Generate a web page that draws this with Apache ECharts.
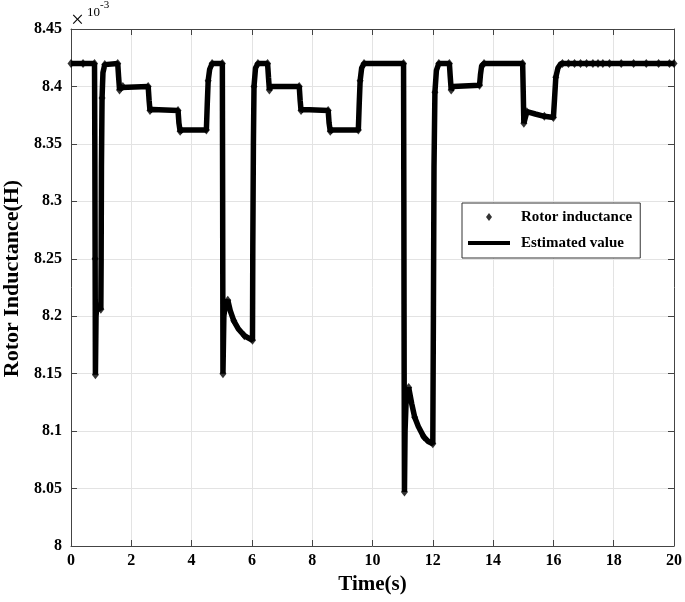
<!DOCTYPE html>
<html>
<head>
<meta charset="utf-8">
<script src="https://cdn.jsdelivr.net/npm/echarts@6/dist/echarts.min.js"></script>
<style>html,body{margin:0;padding:0;background:#fff;}#chart{width:685px;height:602px;}</style>
</head>
<body>
<div id="chart"></div>
<script>
// Estimated value (line), time in s, inductance in 1e-3 H
const estT = [0.00,0.78,0.79,0.80,0.81,0.83,0.86,0.92,0.99,1.00,1.01,1.03,1.06,1.12,1.55,1.58,1.61,1.66,1.72,
  2.56,2.59,2.62,2.70,3.55,3.58,3.62,3.70,4.49,4.52,4.55,4.60,4.68,5.02,5.03,5.04,5.07,5.12,5.20,5.28,5.40,5.55,5.75,5.95,6.02,
  6.03,6.05,6.07,6.12,6.20,6.52,6.55,6.58,6.63,7.57,7.60,7.63,7.70,8.53,8.56,8.60,8.68,9.53,9.56,9.59,9.64,9.72,
  11.03,11.04,11.05,11.06,11.08,11.12,11.20,11.30,11.40,11.52,11.70,11.85,12.00,12.02,12.04,12.07,12.12,12.20,
  12.55,12.58,12.61,12.67,13.55,13.58,13.62,13.70,14.98,15.00,15.02,15.06,15.12,15.40,15.70,16.00,16.04,16.08,16.15,16.25,20.00];
const estV = [8.420,8.420,8.350,8.250,8.149,8.200,8.210,8.207,8.206,8.250,8.330,8.390,8.412,8.419,8.420,8.408,8.397,8.399,8.400,
  8.400,8.388,8.379,8.380,8.379,8.368,8.361,8.362,8.362,8.385,8.405,8.415,8.420,8.420,8.300,8.150,8.200,8.210,8.214,8.205,8.196,8.189,8.183,8.180,8.179,
  8.260,8.350,8.400,8.416,8.420,8.420,8.408,8.397,8.400,8.400,8.388,8.379,8.380,8.379,8.368,8.361,8.362,8.362,8.385,8.405,8.416,8.420,
  8.420,8.300,8.150,8.047,8.100,8.130,8.138,8.124,8.112,8.104,8.095,8.091,8.089,8.200,8.330,8.395,8.414,8.420,
  8.420,8.408,8.397,8.400,8.401,8.410,8.418,8.420,8.420,8.395,8.368,8.372,8.378,8.376,8.374,8.373,8.390,8.408,8.416,8.420,8.420];
// Rotor inductance samples (markers)
const sampT = [0.00,0.40,0.78,0.80,0.81,0.86,0.99,1.03,1.12,1.55,1.61,1.72,2.56,2.62,3.55,3.62,4.49,4.55,4.68,5.02,5.04,5.12,5.20,5.40,5.75,6.02,
  6.07,6.20,6.52,6.58,7.57,7.63,8.53,8.60,9.53,9.59,9.72,11.03,11.06,11.20,11.40,11.70,12.00,12.07,12.20,12.55,12.61,13.55,13.70,14.98,15.02,15.12,15.70,16.00,
  16.08,16.30,16.50,16.70,16.90,17.10,17.31,17.48,17.64,17.86,18.25,18.66,19.08,19.49,19.85,20.00];
const sampV = [8.420,8.420,8.420,8.250,8.149,8.210,8.206,8.390,8.419,8.420,8.397,8.400,8.400,8.379,8.379,8.361,8.362,8.405,8.420,8.420,8.150,8.210,8.214,8.196,8.183,8.179,
  8.400,8.420,8.420,8.397,8.400,8.379,8.379,8.361,8.362,8.405,8.420,8.420,8.047,8.138,8.112,8.095,8.089,8.395,8.420,8.420,8.397,8.401,8.420,8.420,8.368,8.378,8.374,8.373,
  8.408,8.420,8.420,8.420,8.420,8.420,8.420,8.420,8.420,8.420,8.420,8.420,8.420,8.420,8.420,8.420];
const xTicks = {min: 0, max: 20, interval: 2};
const yTicks = {min: 8, max: 8.45, interval: 0.05};

const serif = 'Liberation Serif';
const chart = echarts.init(document.getElementById('chart'), null, {renderer: 'canvas'});
const axisCol = '#444';
const boxAxis = (extra) => Object.assign({
  axisLine: {show: true, onZero: false, lineStyle: {color: axisCol, width: 1}},
  axisTick: {show: true, inside: true, length: 6, lineStyle: {color: axisCol}},
  axisLabel: {show: false},
  splitLine: {show: false}
}, extra);
chart.setOption({
  animation: false,
  backgroundColor: '#fff',
  grid: {left: 71, right: 11, top: 29, bottom: 56, containLabel: false, outerBoundsMode: 'none'},
  xAxis: [
    boxAxis({type: 'value', min: xTicks.min, max: xTicks.max, interval: xTicks.interval, position: 'bottom',
      name: 'Time(s)', nameLocation: 'middle', nameGap: 16,
      nameTextStyle: {fontFamily: serif, fontWeight: 'bold', fontSize: 21, color: '#000'},
      axisLabel: {show: true, margin: 7, fontFamily: serif, fontWeight: 'bold', fontSize: 16, color: '#000'},
      splitLine: {show: true, lineStyle: {color: '#e3e3e3', width: 1}}}),
    boxAxis({type: 'value', min: xTicks.min, max: xTicks.max, interval: xTicks.interval, position: 'top'})
  ],
  yAxis: [
    boxAxis({type: 'value', min: yTicks.min, max: yTicks.max, interval: yTicks.interval, position: 'left',
      name: 'Rotor Inductance(H)', nameLocation: 'middle', nameGap: 48,
      nameTextStyle: {fontFamily: serif, fontWeight: 'bold', fontSize: 22, color: '#000', padding: [0, 0, 0, 18]},
      axisLabel: {show: true, margin: 9, fontFamily: serif, fontWeight: 'bold', fontSize: 16, color: '#000',
        formatter: v => String(+v.toFixed(2))},
      splitLine: {show: true, lineStyle: {color: '#e3e3e3', width: 1}}}),
    boxAxis({type: 'value', min: yTicks.min, max: yTicks.max, interval: yTicks.interval, position: 'right'})
  ],
  legend: {
    orient: 'vertical', left: 462, top: 203,
    padding: [6, 8, 7, 6], itemGap: 10, itemWidth: 42, itemHeight: 14, symbolKeepAspect: true,
    borderColor: '#333', borderWidth: 1, backgroundColor: '#fff', borderRadius: 0,
    textStyle: {fontFamily: serif, fontWeight: 'bold', fontSize: 15, color: '#000', lineHeight: 16, padding: [0, 0, 0, 6]},
    data: [
      {name: 'Rotor inductance', icon: 'path://M0,7L0.01,7ZM42,7L41.99,7ZM21,3L24,7L21,11L18,7Z', itemStyle: {color: '#000'}},
      {name: 'Estimated value', icon: 'path://M0,0H42V4H0Z', itemStyle: {color: '#000'}}
    ]
  },
  graphic: [
    {type: 'text', left: 71, top: 9, style: {text: '×', fontFamily: serif, fontSize: 23, fill: '#000'}},
    {type: 'text', left: 87, top: 6, style: {text: '10', fontFamily: serif, fontSize: 13, fill: '#000'}},
    {type: 'text', left: 100, top: 0, style: {text: '-3', fontFamily: serif, fontSize: 11, fill: '#000'}}
  ],
  series: [
    {name: 'Rotor inductance', type: 'scatter', symbol: 'diamond', symbolSize: [7, 9],
      itemStyle: {color: '#000'}, z: 3,
      data: sampT.map((t, i) => [t, sampV[i]])},
    {name: 'Estimated value', type: 'line', symbol: 'none', showSymbol: false,
      lineStyle: {color: '#000', width: 5.5}, itemStyle: {color: '#000'}, z: 2,
      data: estT.map((t, i) => [t, estV[i]])}
  ]
});
</script>
</body>
</html>
